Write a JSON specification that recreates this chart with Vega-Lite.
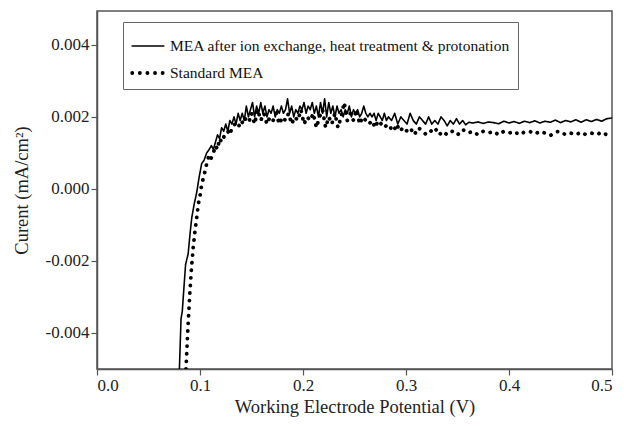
{
  "$schema": "https://vega.github.io/schema/vega-lite/v6.json",
  "width": 515,
  "height": 358,
  "autosize": {"type": "none"},
  "padding": {"left": 97, "top": 11, "right": 12, "bottom": 57},
  "background": "white",
  "config": {
    "font": "Liberation Serif",
    "view": {"stroke": "#555", "strokeWidth": 1.5},
    "axis": {
      "grid": false,
      "domainColor": "#555",
      "domainWidth": 1.5,
      "tickColor": "#555",
      "tickWidth": 1.2,
      "tickSize": 6,
      "labelFont": "Liberation Serif",
      "labelFontSize": 17,
      "labelColor": "#222",
      "labelPadding": 2,
      "titleFont": "Liberation Serif",
      "titleFontSize": 18.5,
      "titleFontWeight": "normal",
      "titleColor": "#222"
    },
    "legend": {
      "orient": "none",
      "legendX": 26,
      "legendY": 11,
      "strokeColor": "#666",
      "fillColor": "white",
      "padding": 7,
      "rowPadding": -15,
      "symbolType": "stroke",
      "symbolSize": 1000,
      "symbolStrokeColor": "black",
      "symbolStrokeWidth": 2.6,
      "labelFont": "Liberation Serif",
      "labelFontSize": 15.5,
      "labelColor": "#111",
      "labelOffset": 4,
      "labelLimit": 500
    }
  },
  "data": {
    "values": [
      {"s": "a", "V": 0.0800, "I": -0.0050},
      {"s": "a", "V": 0.0816, "I": -0.0036},
      {"s": "a", "V": 0.0828, "I": -0.0034},
      {"s": "a", "V": 0.0845, "I": -0.0027},
      {"s": "a", "V": 0.0860, "I": -0.0021},
      {"s": "a", "V": 0.0885, "I": -0.0018},
      {"s": "a", "V": 0.0905, "I": -0.0012},
      {"s": "a", "V": 0.0920, "I": -0.0008},
      {"s": "a", "V": 0.0945, "I": -0.0004},
      {"s": "a", "V": 0.0968, "I": -0.0001},
      {"s": "a", "V": 0.0990, "I": 0.0003},
      {"s": "a", "V": 0.1016, "I": 0.0007},
      {"s": "a", "V": 0.1040, "I": 0.0008},
      {"s": "a", "V": 0.1065, "I": 0.0010},
      {"s": "a", "V": 0.1090, "I": 0.0011},
      {"s": "a", "V": 0.1110, "I": 0.0012},
      {"s": "a", "V": 0.1130, "I": 0.0011},
      {"s": "a", "V": 0.1150, "I": 0.0013},
      {"s": "a", "V": 0.1170, "I": 0.0015},
      {"s": "a", "V": 0.1190, "I": 0.0014},
      {"s": "a", "V": 0.1210, "I": 0.0017},
      {"s": "a", "V": 0.1230, "I": 0.0016},
      {"s": "a", "V": 0.1250, "I": 0.0018},
      {"s": "a", "V": 0.1270, "I": 0.0016},
      {"s": "a", "V": 0.1290, "I": 0.0019},
      {"s": "a", "V": 0.1310, "I": 0.0018},
      {"s": "a", "V": 0.1330, "I": 0.0020},
      {"s": "a", "V": 0.1350, "I": 0.0018},
      {"s": "a", "V": 0.1370, "I": 0.0021},
      {"s": "a", "V": 0.1390, "I": 0.0019},
      {"s": "a", "V": 0.1410, "I": 0.0021},
      {"s": "a", "V": 0.1430, "I": 0.0019},
      {"s": "a", "V": 0.1450, "I": 0.0023},
      {"s": "a", "V": 0.1470, "I": 0.0020},
      {"s": "a", "V": 0.1490, "I": 0.0022},
      {"s": "a", "V": 0.1510, "I": 0.0024},
      {"s": "a", "V": 0.1530, "I": 0.0020},
      {"s": "a", "V": 0.1550, "I": 0.0023},
      {"s": "a", "V": 0.1570, "I": 0.0021},
      {"s": "a", "V": 0.1590, "I": 0.0024},
      {"s": "a", "V": 0.1610, "I": 0.0021},
      {"s": "a", "V": 0.1630, "I": 0.0023},
      {"s": "a", "V": 0.1650, "I": 0.0020},
      {"s": "a", "V": 0.1670, "I": 0.0022},
      {"s": "a", "V": 0.1690, "I": 0.0021},
      {"s": "a", "V": 0.1710, "I": 0.0023},
      {"s": "a", "V": 0.1730, "I": 0.0020},
      {"s": "a", "V": 0.1750, "I": 0.0022},
      {"s": "a", "V": 0.1770, "I": 0.0021},
      {"s": "a", "V": 0.1790, "I": 0.0023},
      {"s": "a", "V": 0.1810, "I": 0.0021},
      {"s": "a", "V": 0.1830, "I": 0.0022},
      {"s": "a", "V": 0.1850, "I": 0.0025},
      {"s": "a", "V": 0.1870, "I": 0.0021},
      {"s": "a", "V": 0.1890, "I": 0.0023},
      {"s": "a", "V": 0.1910, "I": 0.0020},
      {"s": "a", "V": 0.1930, "I": 0.0022},
      {"s": "a", "V": 0.1950, "I": 0.0021},
      {"s": "a", "V": 0.1970, "I": 0.0023},
      {"s": "a", "V": 0.1990, "I": 0.0022},
      {"s": "a", "V": 0.2010, "I": 0.0024},
      {"s": "a", "V": 0.2030, "I": 0.0021},
      {"s": "a", "V": 0.2050, "I": 0.0023},
      {"s": "a", "V": 0.2070, "I": 0.0022},
      {"s": "a", "V": 0.2090, "I": 0.0024},
      {"s": "a", "V": 0.2110, "I": 0.0021},
      {"s": "a", "V": 0.2130, "I": 0.0023},
      {"s": "a", "V": 0.2150, "I": 0.0020},
      {"s": "a", "V": 0.2170, "I": 0.0024},
      {"s": "a", "V": 0.2190, "I": 0.0021},
      {"s": "a", "V": 0.2210, "I": 0.0025},
      {"s": "a", "V": 0.2230, "I": 0.0020},
      {"s": "a", "V": 0.2250, "I": 0.0024},
      {"s": "a", "V": 0.2270, "I": 0.0021},
      {"s": "a", "V": 0.2290, "I": 0.0023},
      {"s": "a", "V": 0.2310, "I": 0.0020},
      {"s": "a", "V": 0.2330, "I": 0.0023},
      {"s": "a", "V": 0.2350, "I": 0.0021},
      {"s": "a", "V": 0.2370, "I": 0.0022},
      {"s": "a", "V": 0.2390, "I": 0.0020},
      {"s": "a", "V": 0.2410, "I": 0.0022},
      {"s": "a", "V": 0.2430, "I": 0.0021},
      {"s": "a", "V": 0.2450, "I": 0.0023},
      {"s": "a", "V": 0.2470, "I": 0.0020},
      {"s": "a", "V": 0.2490, "I": 0.0022},
      {"s": "a", "V": 0.2510, "I": 0.0021},
      {"s": "a", "V": 0.2530, "I": 0.0022},
      {"s": "a", "V": 0.2550, "I": 0.0020},
      {"s": "a", "V": 0.2570, "I": 0.0021},
      {"s": "a", "V": 0.2590, "I": 0.0023},
      {"s": "a", "V": 0.2610, "I": 0.0021},
      {"s": "a", "V": 0.2630, "I": 0.0020},
      {"s": "a", "V": 0.2650, "I": 0.0021},
      {"s": "a", "V": 0.2670, "I": 0.0020},
      {"s": "a", "V": 0.2690, "I": 0.0021},
      {"s": "a", "V": 0.2710, "I": 0.0019},
      {"s": "a", "V": 0.2730, "I": 0.0021},
      {"s": "a", "V": 0.2750, "I": 0.0020},
      {"s": "a", "V": 0.2770, "I": 0.0019},
      {"s": "a", "V": 0.2790, "I": 0.0021},
      {"s": "a", "V": 0.2810, "I": 0.0019},
      {"s": "a", "V": 0.2830, "I": 0.0020},
      {"s": "a", "V": 0.2860, "I": 0.0019},
      {"s": "a", "V": 0.2890, "I": 0.0021},
      {"s": "a", "V": 0.2920, "I": 0.0018},
      {"s": "a", "V": 0.2950, "I": 0.0020},
      {"s": "a", "V": 0.2980, "I": 0.0019},
      {"s": "a", "V": 0.3010, "I": 0.0018},
      {"s": "a", "V": 0.3040, "I": 0.0021},
      {"s": "a", "V": 0.3070, "I": 0.0019},
      {"s": "a", "V": 0.3100, "I": 0.0018},
      {"s": "a", "V": 0.3130, "I": 0.0020},
      {"s": "a", "V": 0.3160, "I": 0.0019},
      {"s": "a", "V": 0.3190, "I": 0.0018},
      {"s": "a", "V": 0.3220, "I": 0.0020},
      {"s": "a", "V": 0.3250, "I": 0.0018},
      {"s": "a", "V": 0.3280, "I": 0.0019},
      {"s": "a", "V": 0.3310, "I": 0.0018},
      {"s": "a", "V": 0.3340, "I": 0.0020},
      {"s": "a", "V": 0.3370, "I": 0.0019},
      {"s": "a", "V": 0.3400, "I": 0.00175},
      {"s": "a", "V": 0.3430, "I": 0.0019},
      {"s": "a", "V": 0.3460, "I": 0.0018},
      {"s": "a", "V": 0.3490, "I": 0.00195},
      {"s": "a", "V": 0.3520, "I": 0.0018},
      {"s": "a", "V": 0.3550, "I": 0.0019},
      {"s": "a", "V": 0.3580, "I": 0.00178},
      {"s": "a", "V": 0.3610, "I": 0.00185},
      {"s": "a", "V": 0.3650, "I": 0.00183},
      {"s": "a", "V": 0.3700, "I": 0.00186},
      {"s": "a", "V": 0.3750, "I": 0.00182},
      {"s": "a", "V": 0.3800, "I": 0.00186},
      {"s": "a", "V": 0.3850, "I": 0.00184},
      {"s": "a", "V": 0.3900, "I": 0.00181},
      {"s": "a", "V": 0.3950, "I": 0.00188},
      {"s": "a", "V": 0.4000, "I": 0.00183},
      {"s": "a", "V": 0.4050, "I": 0.00187},
      {"s": "a", "V": 0.4100, "I": 0.00182},
      {"s": "a", "V": 0.4150, "I": 0.00188},
      {"s": "a", "V": 0.4200, "I": 0.00184},
      {"s": "a", "V": 0.4250, "I": 0.00189},
      {"s": "a", "V": 0.4300, "I": 0.00183},
      {"s": "a", "V": 0.4350, "I": 0.00188},
      {"s": "a", "V": 0.4400, "I": 0.00185},
      {"s": "a", "V": 0.4450, "I": 0.00191},
      {"s": "a", "V": 0.4500, "I": 0.00184},
      {"s": "a", "V": 0.4550, "I": 0.00190},
      {"s": "a", "V": 0.4600, "I": 0.00186},
      {"s": "a", "V": 0.4650, "I": 0.00192},
      {"s": "a", "V": 0.4700, "I": 0.00185},
      {"s": "a", "V": 0.4750, "I": 0.00192},
      {"s": "a", "V": 0.4800, "I": 0.00187},
      {"s": "a", "V": 0.4850, "I": 0.00193},
      {"s": "a", "V": 0.4900, "I": 0.00188},
      {"s": "a", "V": 0.4950, "I": 0.00195},
      {"s": "a", "V": 0.5000, "I": 0.00197},
      {"s": "b", "V": 0.0864, "I": -0.0050},
      {"s": "b", "V": 0.0880, "I": -0.0040},
      {"s": "b", "V": 0.0903, "I": -0.0028},
      {"s": "b", "V": 0.0920, "I": -0.0021},
      {"s": "b", "V": 0.0935, "I": -0.0016},
      {"s": "b", "V": 0.0950, "I": -0.0012},
      {"s": "b", "V": 0.0968, "I": -0.0008},
      {"s": "b", "V": 0.0985, "I": -0.0004},
      {"s": "b", "V": 0.1000, "I": -0.0002},
      {"s": "b", "V": 0.1015, "I": 0.0001},
      {"s": "b", "V": 0.1032, "I": 0.0003},
      {"s": "b", "V": 0.1050, "I": 0.0005},
      {"s": "b", "V": 0.1065, "I": 0.0007},
      {"s": "b", "V": 0.1085, "I": 0.0009},
      {"s": "b", "V": 0.1100, "I": 0.0008},
      {"s": "b", "V": 0.1130, "I": 0.0010},
      {"s": "b", "V": 0.1150, "I": 0.0012},
      {"s": "b", "V": 0.1170, "I": 0.0011},
      {"s": "b", "V": 0.1190, "I": 0.0014},
      {"s": "b", "V": 0.1210, "I": 0.0013},
      {"s": "b", "V": 0.1240, "I": 0.0015},
      {"s": "b", "V": 0.1270, "I": 0.0016},
      {"s": "b", "V": 0.1290, "I": 0.0015},
      {"s": "b", "V": 0.1310, "I": 0.0017},
      {"s": "b", "V": 0.1340, "I": 0.0018},
      {"s": "b", "V": 0.1370, "I": 0.0017},
      {"s": "b", "V": 0.1400, "I": 0.0019},
      {"s": "b", "V": 0.1420, "I": 0.0018},
      {"s": "b", "V": 0.1450, "I": 0.0020},
      {"s": "b", "V": 0.1480, "I": 0.0019},
      {"s": "b", "V": 0.1500, "I": 0.0021},
      {"s": "b", "V": 0.1530, "I": 0.0018},
      {"s": "b", "V": 0.1560, "I": 0.0022},
      {"s": "b", "V": 0.1590, "I": 0.0019},
      {"s": "b", "V": 0.1620, "I": 0.0021},
      {"s": "b", "V": 0.1650, "I": 0.0018},
      {"s": "b", "V": 0.1680, "I": 0.0020},
      {"s": "b", "V": 0.1710, "I": 0.0019},
      {"s": "b", "V": 0.1740, "I": 0.0021},
      {"s": "b", "V": 0.1770, "I": 0.0018},
      {"s": "b", "V": 0.1800, "I": 0.0020},
      {"s": "b", "V": 0.1830, "I": 0.0019},
      {"s": "b", "V": 0.1860, "I": 0.0021},
      {"s": "b", "V": 0.1890, "I": 0.0018},
      {"s": "b", "V": 0.1920, "I": 0.0020},
      {"s": "b", "V": 0.1950, "I": 0.0019},
      {"s": "b", "V": 0.1980, "I": 0.0022},
      {"s": "b", "V": 0.2010, "I": 0.0018},
      {"s": "b", "V": 0.2040, "I": 0.0020},
      {"s": "b", "V": 0.2070, "I": 0.0019},
      {"s": "b", "V": 0.2100, "I": 0.0021},
      {"s": "b", "V": 0.2130, "I": 0.0017},
      {"s": "b", "V": 0.2160, "I": 0.0020},
      {"s": "b", "V": 0.2190, "I": 0.0022},
      {"s": "b", "V": 0.2220, "I": 0.0017},
      {"s": "b", "V": 0.2250, "I": 0.0020},
      {"s": "b", "V": 0.2280, "I": 0.0018},
      {"s": "b", "V": 0.2310, "I": 0.0021},
      {"s": "b", "V": 0.2340, "I": 0.0017},
      {"s": "b", "V": 0.2370, "I": 0.0020},
      {"s": "b", "V": 0.2400, "I": 0.0024},
      {"s": "b", "V": 0.2430, "I": 0.0019},
      {"s": "b", "V": 0.2460, "I": 0.0021},
      {"s": "b", "V": 0.2490, "I": 0.0019},
      {"s": "b", "V": 0.2520, "I": 0.0022},
      {"s": "b", "V": 0.2550, "I": 0.0018},
      {"s": "b", "V": 0.2580, "I": 0.0020},
      {"s": "b", "V": 0.2610, "I": 0.0019},
      {"s": "b", "V": 0.2640, "I": 0.0018},
      {"s": "b", "V": 0.2670, "I": 0.0019},
      {"s": "b", "V": 0.2700, "I": 0.0017},
      {"s": "b", "V": 0.2730, "I": 0.0019},
      {"s": "b", "V": 0.2760, "I": 0.0018},
      {"s": "b", "V": 0.2790, "I": 0.0017},
      {"s": "b", "V": 0.2820, "I": 0.0018},
      {"s": "b", "V": 0.2850, "I": 0.0017},
      {"s": "b", "V": 0.2880, "I": 0.0016},
      {"s": "b", "V": 0.2910, "I": 0.0018},
      {"s": "b", "V": 0.2940, "I": 0.0016},
      {"s": "b", "V": 0.2970, "I": 0.0017},
      {"s": "b", "V": 0.3000, "I": 0.0016},
      {"s": "b", "V": 0.3040, "I": 0.0017},
      {"s": "b", "V": 0.3080, "I": 0.0015},
      {"s": "b", "V": 0.3120, "I": 0.0017},
      {"s": "b", "V": 0.3160, "I": 0.0016},
      {"s": "b", "V": 0.3200, "I": 0.0015},
      {"s": "b", "V": 0.3240, "I": 0.0016},
      {"s": "b", "V": 0.3280, "I": 0.0017},
      {"s": "b", "V": 0.3320, "I": 0.0015},
      {"s": "b", "V": 0.3360, "I": 0.0016},
      {"s": "b", "V": 0.3400, "I": 0.0015},
      {"s": "b", "V": 0.3450, "I": 0.0016},
      {"s": "b", "V": 0.3500, "I": 0.0015},
      {"s": "b", "V": 0.3550, "I": 0.00165},
      {"s": "b", "V": 0.3600, "I": 0.00155},
      {"s": "b", "V": 0.3650, "I": 0.0016},
      {"s": "b", "V": 0.3700, "I": 0.0015},
      {"s": "b", "V": 0.3750, "I": 0.0016},
      {"s": "b", "V": 0.3800, "I": 0.00155},
      {"s": "b", "V": 0.3850, "I": 0.0016},
      {"s": "b", "V": 0.3900, "I": 0.0015},
      {"s": "b", "V": 0.3950, "I": 0.0016},
      {"s": "b", "V": 0.4000, "I": 0.00155},
      {"s": "b", "V": 0.4050, "I": 0.0016},
      {"s": "b", "V": 0.4100, "I": 0.0015},
      {"s": "b", "V": 0.4150, "I": 0.00158},
      {"s": "b", "V": 0.4200, "I": 0.0016},
      {"s": "b", "V": 0.4250, "I": 0.00152},
      {"s": "b", "V": 0.4300, "I": 0.0016},
      {"s": "b", "V": 0.4350, "I": 0.00155},
      {"s": "b", "V": 0.4400, "I": 0.00148},
      {"s": "b", "V": 0.4450, "I": 0.00158},
      {"s": "b", "V": 0.4500, "I": 0.0016},
      {"s": "b", "V": 0.4550, "I": 0.0015},
      {"s": "b", "V": 0.4600, "I": 0.00155},
      {"s": "b", "V": 0.4650, "I": 0.0015},
      {"s": "b", "V": 0.4700, "I": 0.00158},
      {"s": "b", "V": 0.4750, "I": 0.0015},
      {"s": "b", "V": 0.4800, "I": 0.00155},
      {"s": "b", "V": 0.4850, "I": 0.0015},
      {"s": "b", "V": 0.4900, "I": 0.00158},
      {"s": "b", "V": 0.4950, "I": 0.0015},
      {"s": "b", "V": 0.5000, "I": 0.00158}
    ]
  },
  "mark": {"type": "line", "color": "black", "strokeCap": "round", "strokeJoin": "round", "clip": true},
  "encoding": {
    "x": {
      "field": "V",
      "type": "quantitative",
      "scale": {"domain": [0, 0.5], "nice": false},
      "axis": {"values": [0, 0.1, 0.2, 0.3, 0.4, 0.5], "format": ".1f", "title": "Working Electrode Potential (V)", "titlePadding": 4}
    },
    "y": {
      "field": "I",
      "type": "quantitative",
      "scale": {"domain": [-0.005, 0.00494], "nice": false, "zero": false},
      "axis": {
        "values": [-0.004, -0.002, 0, 0.002, 0.004],
        "labelExpr": "replace(format(datum.value, '.3f'), '\u2212', '-')",
        "title": "Curent (mA/cm²)",
        "titlePadding": 14
      }
    },
    "strokeDash": {
      "field": "s",
      "type": "nominal",
      "scale": {"domain": ["a", "b"], "range": [[1, 0], [0.1, 7.5]]},
      "legend": {
        "title": null,
        "labelExpr": "datum.label == 'a' ? 'MEA after ion exchange, heat treatment & protonation' : 'Standard MEA'",
        "encode": {"symbols": {"update": {"strokeCap": {"value": "round"}, "strokeWidth": {"signal": "datum.value == 'a' ? 1.7 : 3.4"}}}}
      }
    },
    "strokeWidth": {
      "field": "s",
      "type": "nominal",
      "scale": {"domain": ["a", "b"], "range": [1.6, 3.8]},
      "legend": {
        "title": null,
        "labelExpr": "datum.label == 'a' ? 'MEA after ion exchange, heat treatment & protonation' : 'Standard MEA'"
      }
    }
  }
}
